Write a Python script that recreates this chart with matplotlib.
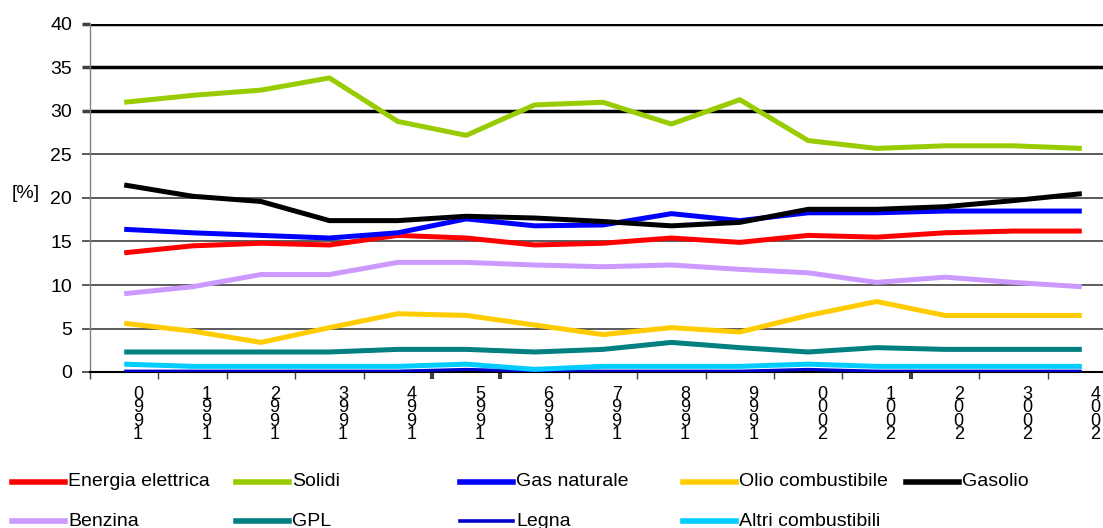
import matplotlib.pyplot as plt
import numpy as np
from matplotlib.lines import Line2D

plt.rcParams['font.family'] = ['Liberation Sans', 'DejaVu Sans']

# anni 1990-2004
anni = [str(a) for a in range(1990, 2005)]

serie = ["Energia elettrica", "Solidi", "Gas naturale", "Olio combustibile", "Gasolio",
         "Benzina", "GPL", "Legna", "Altri combustibili"]
colori = ["#FF0000", "#99CC00", "#0000FF", "#FFCC00", "#000000",
          "#CC99FF", "#008080", "#0000CC", "#00CCFF"]

energia = [13.7, 14.5, 14.8, 14.6, 15.7, 15.4, 14.6, 14.8, 15.4, 14.9, 15.7, 15.5, 16.0, 16.2, 16.2]
solidi = [31.0, 31.8, 32.4, 33.8, 28.8, 27.2, 30.7, 31.0, 28.5, 31.3, 26.6, 25.7, 26.0, 26.0, 25.7]
gas_nat = [16.4, 16.0, 15.7, 15.4, 16.0, 17.6, 16.8, 16.9, 18.2, 17.4, 18.3, 18.3, 18.5, 18.5, 18.5]
olio = [5.6, 4.7, 3.4, 5.1, 6.7, 6.5, 5.4, 4.3, 5.1, 4.6, 6.5, 8.1, 6.5, 6.5, 6.5]
gasolio = [21.5, 20.2, 19.6, 17.4, 17.4, 17.9, 17.7, 17.3, 16.8, 17.2, 18.7, 18.7, 19.0, 19.7, 20.5]
benzina = [9.0, 9.8, 11.2, 11.2, 12.6, 12.6, 12.3, 12.1, 12.3, 11.8, 11.4, 10.3, 10.9, 10.3, 9.8]
gpl = [2.3, 2.3, 2.3, 2.3, 2.6, 2.6, 2.3, 2.6, 3.4, 2.8, 2.3, 2.8, 2.6, 2.6, 2.6]
legna = [0.1, 0.1, 0.1, 0.1, 0.1, 0.3, 0.1, 0.1, 0.1, 0.1, 0.3, 0.1, 0.1, 0.1, 0.1]
altri = [0.9, 0.65, 0.65, 0.65, 0.65, 0.9, 0.3, 0.65, 0.65, 0.65, 0.9, 0.65, 0.65, 0.65, 0.65]

valori = [energia, solidi, gas_nat, olio, gasolio, benzina, gpl, legna, altri]
spessori = [3.6, 3.6, 3.6, 3.6, 3.6, 3.6, 3.6, 2.2, 3.6]

fig = plt.figure(figsize=(11.03, 5.28), dpi=100)
ax = fig.add_axes([90 / 1103, 156 / 528, 1026 / 1103, 348 / 528])

x = np.arange(len(anni))

# griglia orizzontale: le prime tre linee in alto sono più spesse
yt = list(range(0, 41, 5))
for g in yt[1:]:
    spessa = g >= 30
    ax.axhline(g, color="black" if spessa else "#404040", lw=2.5 if spessa else 1.2, zorder=1)

for nome, v, c, w in zip(serie, valori, colori, spessori):
    ax.plot(x, v, color=c, lw=w, label=nome, solid_capstyle="butt", zorder=3)

ax.set_xlim(-0.5, 14.5)
ax.set_ylim(0, 40)
ax.set_yticks(yt)
ax.tick_params(axis="y", labelsize=14, length=6, width=1.2, color="#404040", pad=7)
for g, t in zip(yt, ax.yaxis.get_major_ticks()):
    if g >= 30:
        t.tick1line.set_markeredgewidth(2.5)
        t.tick1line.set_color("black")

# tacche tra le categorie, etichette impilate
ax.set_xticks(np.arange(-0.5, 15, 1))
ax.set_xticklabels([])
ax.tick_params(axis="x", which="major", length=5, width=1, color="#404040")
ax.set_xticks(x + 0.2, ["\n".join(reversed(a)) for a in anni], minor=True)
ax.tick_params(axis="x", which="minor", length=0, pad=10, labelsize=13)
for lab in ax.get_xticklabels(minor=True):
    lab.set_linespacing(0.72)
for i in [5, 6, 12]:
    ax.xaxis.get_major_ticks()[i].tick1line.set_markeredgewidth(3)
    ax.xaxis.get_major_ticks()[i].tick1line.set_color("black")

for s in ["top", "right"]:
    ax.spines[s].set_visible(False)
ax.spines["left"].set_color("#808080")
ax.spines["left"].set_linewidth(1)
ax.spines["bottom"].set_color("black")
ax.spines["bottom"].set_linewidth(1.5)

fig.text(12 / 1103, 1 - 194 / 528, "[%]", fontsize=14, va="center", ha="left")

# legenda a due righe
col_x = [12, 236, 460, 683, 906]
rows_y = [482, 521]
for k, (nome, c, w) in enumerate(zip(serie, colori, spessori)):
    r, cidx = divmod(k, 5)
    x0 = col_x[cidx] / 1103
    y0 = 1 - rows_y[r] / 528
    fig.add_artist(Line2D([x0, x0 + 53 / 1103], [y0, y0], color=c,
                          lw=w + 0.4, transform=fig.transFigure))
    fig.text(x0 + 56 / 1103, y0, nome, fontsize=14, va="center", ha="left")

plt.savefig("out.png", dpi=100)
